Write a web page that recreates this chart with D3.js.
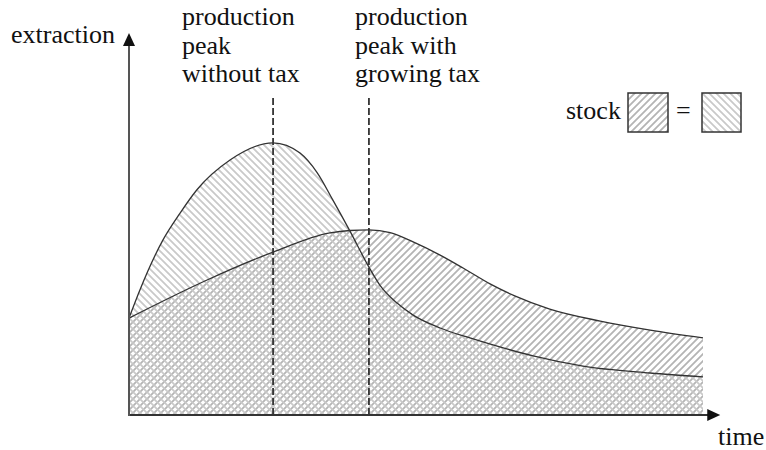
<!DOCTYPE html>
<html>
<head>
<meta charset="utf-8">
<script src="https://cdn.jsdelivr.net/npm/d3@7"></script>
<style>
  body { margin: 0; background: #fff; }
  text { font-family: "Liberation Serif", "Times New Roman", serif; font-size: 26px; fill: #111; }
</style>
</head>
<body>
<svg width="766" height="450"></svg>
<script>
// time (0..10) and extraction values
var timeNoTax = [0, 0.19, 0.59, 0.89, 1.18, 1.76, 2.51, 2.98, 3.28, 3.55, 3.85, 4.18, 4.37, 4.67, 4.95, 5.42, 5.94, 6.46, 7.04, 7.91, 9.08, 10];
var extractionNoTax = [32.3, 41.7, 58.3, 67.3, 75, 85, 90.7, 87.3, 80.7, 71.7, 61.3, 49.3, 43.3, 37.3, 33.3, 29, 25.7, 22.7, 19.7, 16.3, 14, 12.7];

var timeTax = [0, 1.36, 2.51, 3.5, 3.85, 4.18, 4.55, 4.95, 5.42, 5.82, 6.29, 6.72, 7.33, 8.21, 9.08, 10];
var extractionTax = [32.3, 45, 54.3, 60.7, 61.5, 61.7, 60.8, 57.7, 53.3, 49, 43.7, 39.7, 35.3, 31.3, 28.3, 25.7];

var peakNoTax = 2.51, peakTax = 4.18;
var labelNoTax = ["production", "peak", "without tax"];
var labelTax = ["production", "peak with", "growing tax"];

var svg = d3.select("svg");

var x = d3.scaleLinear().domain([0, 10]).range([129, 703]);
var y = d3.scaleLinear().domain([0, 100]).range([415, 115]);

var noTax = timeNoTax.map(function(t, i) { return {t: t, v: extractionNoTax[i]}; });
var tax = timeTax.map(function(t, i) { return {t: t, v: extractionTax[i]}; });

// hatch patterns, one diagonal per tile
var defs = svg.append("defs");
function hatch(id, d, color) {
    var p = defs.append("pattern")
        .attr("id", id)
        .attr("patternUnits", "userSpaceOnUse")
        .attr("width", 7).attr("height", 7);
    p.append("path")
        .attr("d", d)
        .attr("stroke", color).attr("stroke-width", 1.8).attr("fill", "none");
}
hatch("back", "M0,0L7,7M-1,6L1,8M6,-1L8,1", "#c9c9c9");  // "\" stripes
hatch("fwd", "M0,7L7,0M-1,1L1,-1M6,8L8,6", "#b4b4b4");   // "/" stripes

var area = d3.area().curve(d3.curveMonotoneX)
    .x(function(d) { return x(d.t); })
    .y0(y(0))
    .y1(function(d) { return y(d.v); });
var line = d3.line().curve(d3.curveMonotoneX)
    .x(function(d) { return x(d.t); })
    .y(function(d) { return y(d.v); });

svg.append("path").datum(tax).attr("d", area).attr("fill", "url(#fwd)");
svg.append("path").datum(noTax).attr("d", area).attr("fill", "url(#back)");

svg.append("path").datum(tax).attr("d", line)
    .attr("fill", "none").attr("stroke", "#333").attr("stroke-width", 1.3);
svg.append("path").datum(noTax).attr("d", line)
    .attr("fill", "none").attr("stroke", "#333").attr("stroke-width", 1.3);

// dashed peak lines
[peakNoTax, peakTax].forEach(function(p) {
    svg.append("line")
        .attr("x1", x(p)).attr("x2", x(p))
        .attr("y1", y(0)).attr("y2", y(106))
        .attr("stroke", "#333").attr("stroke-width", 1.8)
        .attr("stroke-dasharray", "7,3");
});

// axes with arrows
var xEnd = x(10.3), yEnd = y(127.3);
svg.append("line").attr("x1", x(0)).attr("x2", xEnd - 10).attr("y1", y(0)).attr("y2", y(0))
    .attr("stroke", "#333").attr("stroke-width", 2);
svg.append("line").attr("x1", x(0)).attr("x2", x(0)).attr("y1", y(0) + 1).attr("y2", yEnd + 10)
    .attr("stroke", "#555").attr("stroke-width", 2);
svg.append("path")
    .attr("d", "M" + xEnd + "," + y(0) + "l-13,-6l0,12z").attr("fill", "#111");
svg.append("path")
    .attr("d", "M" + x(0) + "," + yEnd + "l-6,13l12,0z").attr("fill", "#111");

svg.append("text").attr("x", 11).attr("y", 43).text("extraction");
svg.append("text").attr("x", 718).attr("y", 445).text("time");

function label(lines, lx) {
    lines.forEach(function(s, i) {
        svg.append("text").attr("x", lx).attr("y", 25 + i * 28.5).text(s);
    });
}
label(labelNoTax, 182);
label(labelTax, 355);

// legend
svg.append("text").attr("x", 566).attr("y", 119).text("stock");
svg.append("rect").attr("x", 628).attr("y", 93).attr("width", 40).attr("height", 39)
    .attr("fill", "url(#fwd)").attr("stroke", "#333").attr("stroke-width", 1.5);
svg.append("text").attr("x", 676).attr("y", 119).text("=");
svg.append("rect").attr("x", 702).attr("y", 93).attr("width", 39).attr("height", 39)
    .attr("fill", "url(#back)").attr("stroke", "#333").attr("stroke-width", 1.5);
</script>
</body>
</html>
